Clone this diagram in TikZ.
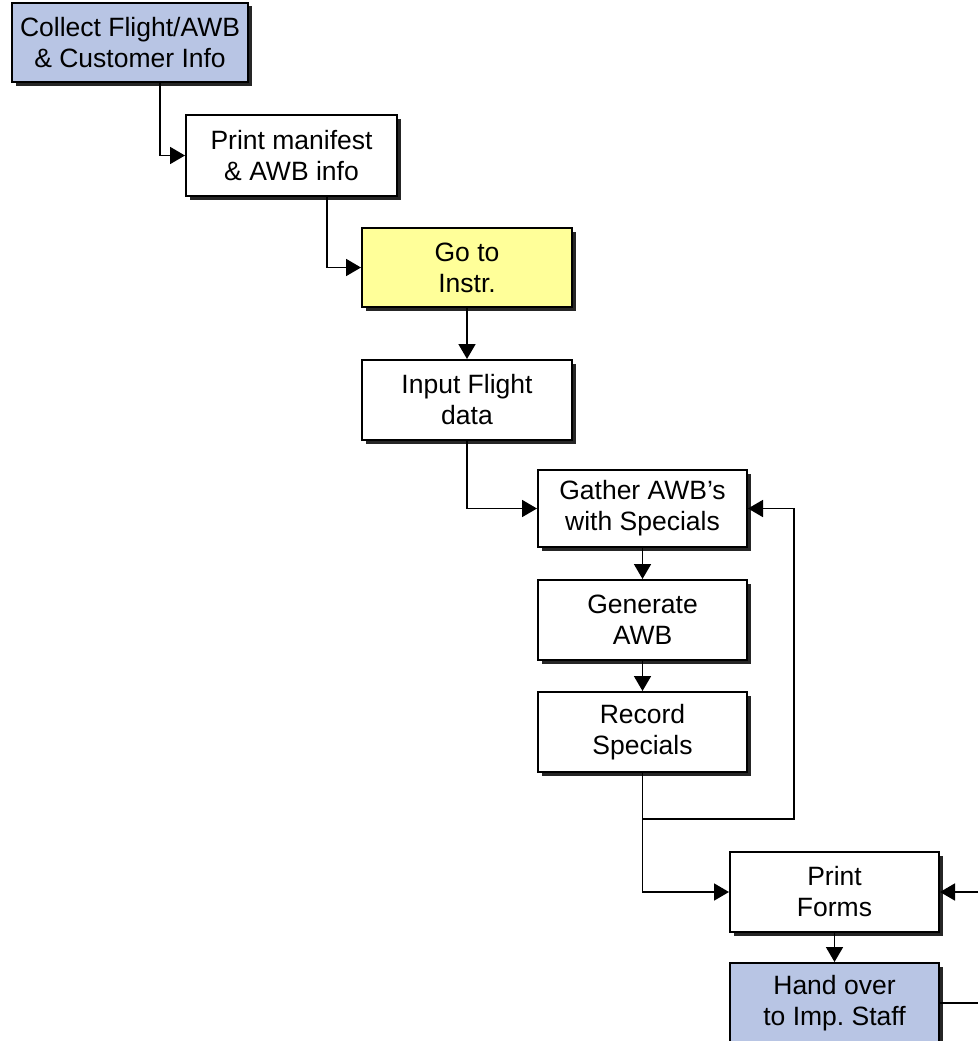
\documentclass[tikz,border=0pt]{standalone}
\usepackage{fontspec}
\setmainfont{Liberation Sans}
\usetikzlibrary{arrows.meta,shadows}
\definecolor{stepblue}{RGB}{184,197,228}
\definecolor{stepyellow}{RGB}{255,255,153}
\frenchspacing
\begin{document}
\begin{tikzpicture}[x=1pt,y=-1pt,
  stepbox/.style={draw=black, line width=2pt, fill=white, align=center,
    inner sep=0pt, font=\fontsize{26.5}{31}\selectfont,
    drop shadow={shadow xshift=3.5pt, shadow yshift=-3.5pt, fill=black!85, opacity=1}},
  bluebox/.style={stepbox, fill=stepblue},
  yellowbox/.style={stepbox, fill=stepyellow},
  flow/.style={draw=black, line width=1.8pt},
  arrowflow/.style={flow, -{Triangle[length=15pt,width=17pt]}}]
\useasboundingbox (0,0) rectangle (978,1041);

% process steps
\node[bluebox, minimum width=236pt, minimum height=79pt] (collect) at (130,42.5) {Collect Flight/AWB\\ \& Customer Info};
\node[stepbox, minimum width=211pt, minimum height=81pt] (print) at (291.5,155.5) {Print manifest\\ \& AWB info};
\node[yellowbox, minimum width=210pt, minimum height=79pt] (goto) at (467,267.5) {Go to\\ Instr.};
\node[stepbox, minimum width=210pt, minimum height=80pt] (input) at (467,400) {Input Flight\\ data};
\node[stepbox, minimum width=209pt, minimum height=77pt] (gather) at (642.5,508.5) {Gather AWB’s\\ with Specials};
\node[stepbox, minimum width=209pt, minimum height=80pt] (generate) at (642.5,620) {Generate\\ AWB};
\node[stepbox, minimum width=209pt, minimum height=80pt] (record) at (642.5,732) {Record\\ Specials};
\node[stepbox, minimum width=209pt, minimum height=80pt] (forms) at (834.5,892) {Print\\ Forms};
\node[bluebox, minimum width=209pt, minimum height=80pt] (handover) at (834.5,1003) {Hand over\\ to Imp.\ Staff};

% junction and loose ends
\coordinate (split) at (642.5,819);
\coordinate (loopcorner) at (794,819);
\coordinate (formsin) at (978,892);
\coordinate (handout) at (978,1003);

% connectors
\draw[arrowflow] (160,0 |- collect.south) |- (print.west);
\draw[arrowflow] (327,0 |- print.south) |- (goto.west);
\draw[arrowflow] (goto.south) -- (input.north);
\draw[arrowflow] (input.south) |- (gather.west);
\draw[arrowflow] (gather.south) -- (generate.north);
\draw[arrowflow] (generate.south) -- (record.north);
\draw[flow] (record.south) -- (split);
\draw[arrowflow] (split) -- (loopcorner) |- (gather.east);
\draw[arrowflow] (split) |- (forms.west);
\draw[arrowflow] (formsin) -- (forms.east);
\draw[arrowflow] (forms.south) -- (handover.north);
\draw[flow] (handover.east) -- (handout);
\end{tikzpicture}
\end{document}
